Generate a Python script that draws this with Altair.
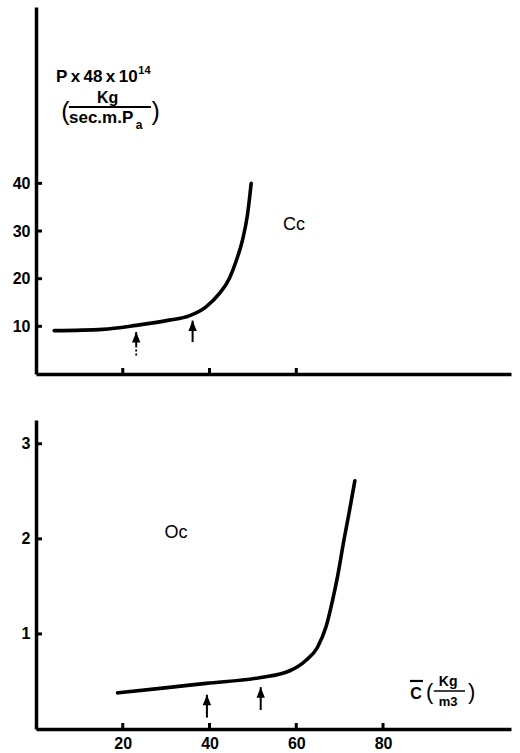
import altair as alt
import pandas as pd

# ---------------- data ----------------
top_x = [4.2, 15.4, 23.1, 30.7, 35.3, 39.2, 42.3, 44.6, 46.1, 47.6, 48.8, 49.6]
top_y = [9.1, 9.37, 10.2, 11.3, 12.2, 14.1, 16.9, 20.1, 23.6, 28.1, 33.7, 40.0]

bot_x = [18.8, 29.2, 39.2, 51.5, 58.4, 62.2, 64.9, 66.9, 68.4, 69.5, 71.0, 72.2, 73.5]
bot_y = [0.38, 0.43, 0.48, 0.54, 0.61, 0.72, 0.86, 1.08, 1.36, 1.60, 1.99, 2.28, 2.61]

top_arrow_x = [23.1, 36.1]
top_arrow_tip = [8.8, 11.2]
top_arrow_tail = [5.7, 6.7]
top_dash_x = [23.1]
top_dash_lo = [3.9]
top_dash_hi = [5.7]
bot_arrow_x = [39.4, 51.8]
bot_arrow_tip = [0.36, 0.44]
bot_arrow_tail = [0.12, 0.20]

top_xticks = [20, 40, 60]
bot_xticks = [20, 40, 60, 80]
top_yticks = [10, 20, 30, 40]
bot_yticks = [1, 2, 3]

top_ydom = [0, 77]
bot_ydom = [0, 3.25]
XDOM = [0, 109.5]

W = 475
H1 = 367
H2 = 309
FONT = "Liberation Sans"
HEAD = "M0,0L0.4,1L-0.4,1Z"
TS = "\u2009"  # thin space


def scales(ydom):
    return (alt.Scale(domain=XDOM, nice=False, zero=False),
            alt.Scale(domain=ydom, nice=False, zero=False))


def txt(text, x, y, xs, ys, size, weight="bold", align="left", baseline="alphabetic"):
    return alt.Chart(pd.DataFrame({"t": [text], "x": [x], "y": [y]})).mark_text(
        font=FONT, fontSize=size, fontWeight=weight, align=align,
        baseline=baseline, color="black"
    ).encode(x=alt.X("x:Q", scale=xs, title=None),
             y=alt.Y("y:Q", scale=ys, title=None), text="t:N")


def hline(x1, x2, y, xs, ys, w=2):
    return alt.Chart(pd.DataFrame({"x": [x1], "x2": [x2], "y": [y]})).mark_rule(
        color="black", strokeWidth=w
    ).encode(x=alt.X("x:Q", scale=xs, title=None), x2="x2:Q",
             y=alt.Y("y:Q", scale=ys, title=None))


def panel(cx, cy, ydom, yticks, xticks, H, ax, atip, atail, show_xlabels):
    xs, ys = scales(ydom)
    xaxis = alt.Axis(values=xticks, labels=show_xlabels, ticks=False, title=None,
                     format="d", labelPadding=6, grid=False)
    yaxis = alt.Axis(values=yticks, ticks=False, title=None, format="d",
                     labelPadding=6, grid=False)
    curve = alt.Chart(pd.DataFrame({"x": cx, "y": cy})).mark_line(
        color="black", strokeWidth=3.6, interpolate="monotone", strokeCap="round"
    ).encode(x=alt.X("x:Q", scale=xs, axis=xaxis),
             y=alt.Y("y:Q", scale=ys, axis=yaxis))
    xt = alt.Chart(pd.DataFrame({"t": xticks})).mark_rule(
        color="black", strokeWidth=3
    ).encode(x=alt.X("t:Q", scale=xs, title=None), y=alt.value(H), y2=alt.value(H - 6))
    yt = alt.Chart(pd.DataFrame({"t": yticks})).mark_rule(
        color="black", strokeWidth=3
    ).encode(y=alt.Y("t:Q", scale=ys, title=None), x=alt.value(0), x2=alt.value(6))
    adf = pd.DataFrame({"x": ax, "tip": atip, "tail": atail})
    shaft = alt.Chart(adf).mark_rule(color="black", strokeWidth=2).encode(
        x=alt.X("x:Q", scale=xs, title=None),
        y=alt.Y("tail:Q", scale=ys, title=None), y2="tip:Q")
    head = alt.Chart(adf).mark_point(
        shape=HEAD, size=440, filled=True, color="black", opacity=1
    ).encode(x=alt.X("x:Q", scale=xs, title=None),
             y=alt.Y("tip:Q", scale=ys, title=None))
    return [curve, xt, yt, shaft, head], xs, ys


# ---------------- top panel ----------------
layers1, xs1, ys1 = panel(top_x, top_y, top_ydom, top_yticks, top_xticks, H1,
                          top_arrow_x, top_arrow_tip, top_arrow_tail, False)
dash = alt.Chart(pd.DataFrame({"x": top_dash_x, "lo": top_dash_lo, "hi": top_dash_hi})).mark_rule(
    color="black", strokeWidth=1.8, strokeDash=[2, 2]
).encode(x=alt.X("x:Q", scale=xs1, title=None),
         y=alt.Y("lo:Q", scale=ys1, title=None), y2="hi:Q")
layers1 += [
    dash,
    txt("P" + TS + "x" + TS + "48" + TS + "x" + TS + "10", 4.6, 61.3, xs1, ys1, 17),
    txt("14", 23.6, 62.9, xs1, ys1, 11),
    txt("(", 5.8, 55.0, xs1, ys1, 25, weight="normal", baseline="middle"),
    txt("Kg", 16.5, 56.9, xs1, ys1, 16, align="center"),
    hline(7.6, 26.5, 56.0, xs1, ys1),
    txt("sec.m.P", 7.6, 52.7, xs1, ys1, 17),
    txt("a", 23.0, 51.3, xs1, ys1, 12),
    txt(")", 26.6, 55.0, xs1, ys1, 25, weight="normal", baseline="middle"),
    txt("Cc", 59.5, 31.3, xs1, ys1, 18, weight="normal", align="center", baseline="middle"),
]
top = alt.layer(*layers1).properties(width=W, height=H1)

# ---------------- bottom panel ----------------
layers2, xs2, ys2 = panel(bot_x, bot_y, bot_ydom, bot_yticks, bot_xticks, H2,
                          bot_arrow_x, bot_arrow_tip, bot_arrow_tail, True)
layers2 += [
    txt("Oc", 32.3, 2.06, xs2, ys2, 18, weight="normal", align="center", baseline="middle"),
    txt("C", 86.3, 0.37, xs2, ys2, 16, baseline="middle"),
    hline(86.2, 89.2, 0.505, xs2, ys2, w=2.2),
    txt("(", 89.9, 0.39, xs2, ys2, 22, weight="normal", baseline="middle"),
    txt("Kg", 95.0, 0.49, xs2, ys2, 14, align="center", baseline="middle"),
    hline(91.7, 98.9, 0.40, xs2, ys2, w=1.6),
    txt("m3", 95.0, 0.28, xs2, ys2, 13, align="center", baseline="middle"),
    txt(")", 99.6, 0.39, xs2, ys2, 22, weight="normal", baseline="middle"),
]
bottom = alt.layer(*layers2).properties(width=W, height=H2)

chart = alt.vconcat(top, bottom, spacing=44).properties(
    padding={"left": 12, "top": 7, "right": 2, "bottom": 2},
    background="white",
).configure_view(stroke=None).configure_axis(
    domainColor="black", domainWidth=3.5, labelColor="black", labelFont=FONT,
    labelFontSize=16, labelFontWeight="bold", grid=False
)

chart.save("out.html", embed_options={"renderer": "svg", "actions": False})
